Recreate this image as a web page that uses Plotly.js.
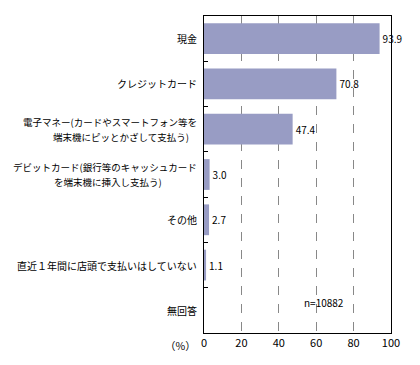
<!DOCTYPE html>
<html><head><meta charset="utf-8">
<script src="https://cdn.plot.ly/plotly-3.0.1.min.js"></script>
<style>html,body{margin:0;padding:0;background:#fff}</style>
</head><body><div id="chart" style="width:420px;height:365px"></div>
<script>
var categories = [
  "現金",
  "クレジットカード",
  "電子マネー(カードやスマートフォン等を<br>端末機にピッとかざして支払う)",
  "デビットカード(銀行等のキャッシュカード<br>を端末機に挿入し支払う)",
  "その他",
  "直近１年間に店頭で支払いはしていない",
  "無回答"
];
var values = [93.9, 70.8, 47.4, 3.0, 2.7, 1.1, null];
var valueLabels = ["93.9", "70.8", "47.4", "3.0", "2.7", "1.1", ""];
var xTicks = [0, 20, 40, 60, 80, 100];
var sampleNote = "n=10882";
var unitLabel = "（%）";

var font = "'Noto Sans CJK JP', 'Noto Sans', sans-serif";
var trace = {
  type: "bar", orientation: "h",
  x: values, y: categories,
  marker: {color: "#989CC4", line: {width: 0}},
  text: valueLabels, textposition: "outside", cliponaxis: false,
  textfont: {family: font, size: 10, color: "#000"},
  hoverinfo: "none"
};

// category labels drawn as annotations anchored to the category axis
var line2Shift = {2: -8, 3: -35};
var annotations = [];
categories.forEach(function (c, i) {
  var lines = c.split("<br>");
  if (lines.length === 1) {
    annotations.push({xref: "paper", yref: "y", x: -0.027, y: c, text: c, showarrow: false,
      xanchor: "right", yanchor: "middle", font: {family: font, size: 10, color: "#000"}});
  } else {
    annotations.push({xref: "paper", yref: "y", x: -0.027, y: c, text: lines[0], showarrow: false,
      xanchor: "right", yanchor: "middle", yshift: 7.5, font: {family: font, size: 9.5, color: "#000"}});
    annotations.push({xref: "paper", yref: "y", x: -0.027, y: c, text: lines[1], showarrow: false,
      xanchor: "right", yanchor: "middle", yshift: -7.5, xshift: line2Shift[i] || 0,
      font: {family: font, size: 9.5, color: "#000"}});
  }
});
annotations.push({xref: "x", yref: "paper", x: 64, y: 0.095, text: sampleNote, showarrow: false,
  xanchor: "center", yanchor: "middle", font: {family: font, size: 10, color: "#000"}});
annotations.push({xref: "paper", yref: "paper", x: -0.123, y: -0.038, text: unitLabel, showarrow: false,
  xanchor: "center", yanchor: "middle", font: {family: font, size: 10.5, color: "#000"}});

var layout = {
  width: 420, height: 365,
  margin: {l: 204, r: 29, t: 16, b: 32},
  paper_bgcolor: "#fff", plot_bgcolor: "#fff",
  showlegend: false,
  bargap: 0.32,
  font: {family: font, size: 10, color: "#000"},
  xaxis: {
    range: [0, 100], tickvals: xTicks, ticktext: xTicks.map(String),
    showgrid: true, gridcolor: "#888", griddash: "dash", gridwidth: 1,
    zeroline: false, showline: true, linecolor: "#000", linewidth: 1, mirror: true,
    ticks: "", tickfont: {family: font, size: 11, color: "#000"}, fixedrange: true
  },
  yaxis: {
    type: "category", autorange: "reversed",
    showline: true, linecolor: "#000", linewidth: 1, mirror: true,
    ticks: "inside", ticklen: 4, tickcolor: "#000", tickson: "boundaries",
    showgrid: false, zeroline: false, showticklabels: false, fixedrange: true
  },
  annotations: annotations
};
Plotly.newPlot("chart", [trace], layout, {staticPlot: true, displayModeBar: false});
</script></body></html>
